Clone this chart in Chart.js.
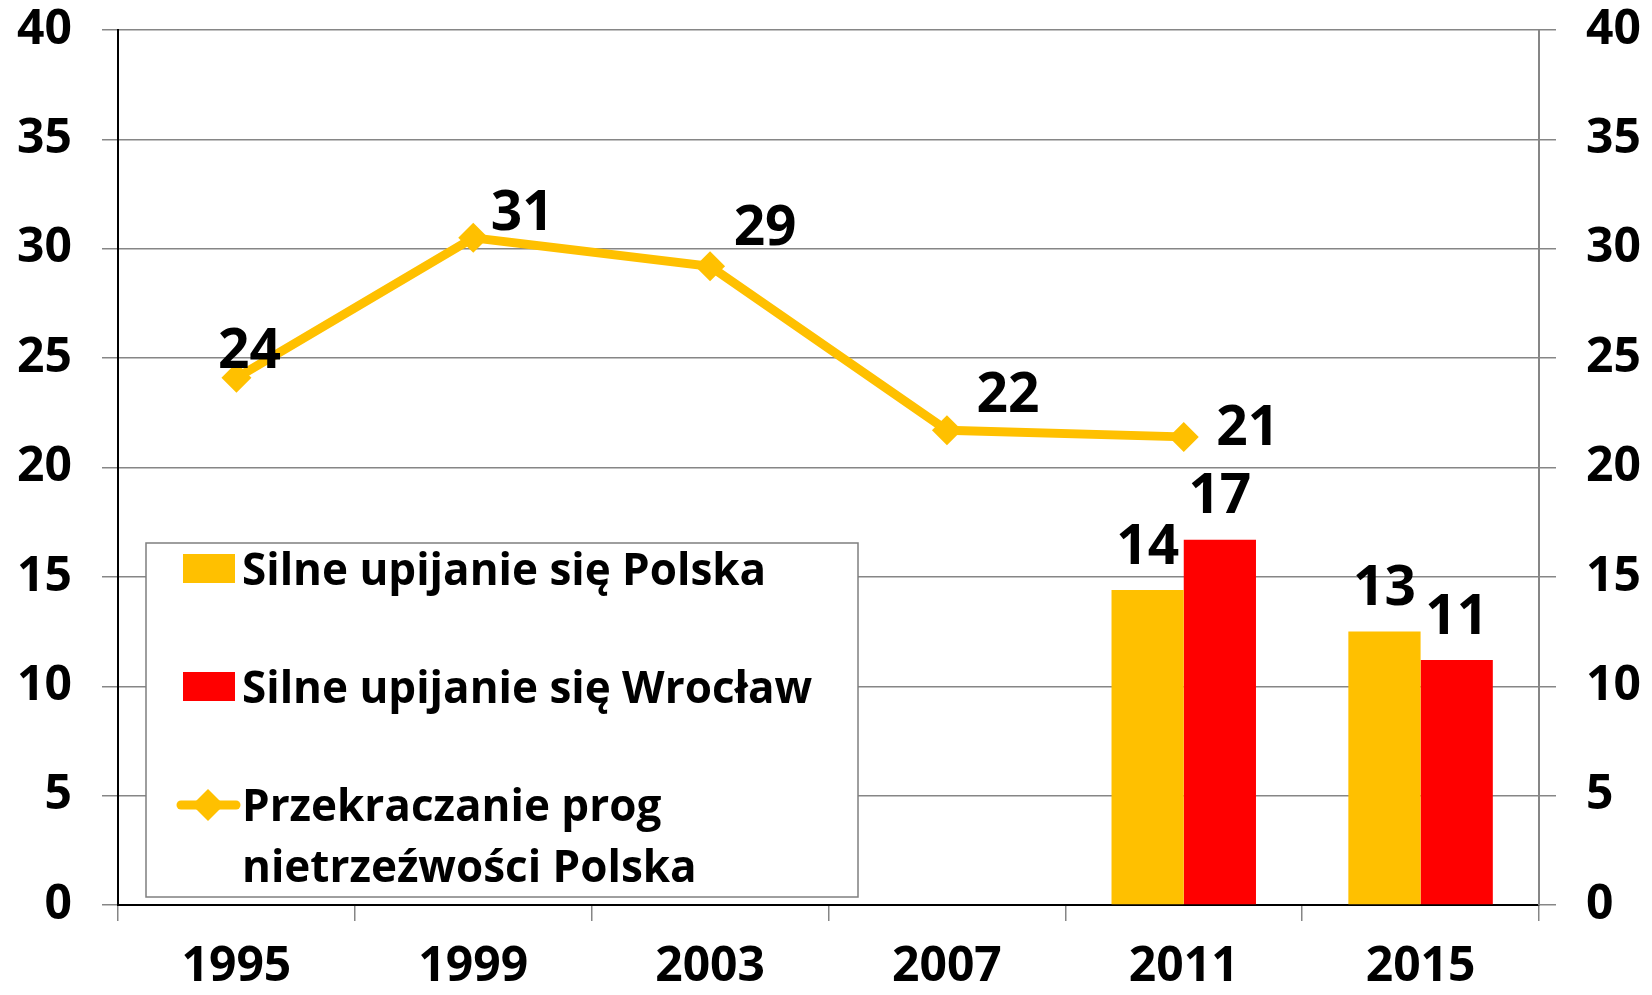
<!DOCTYPE html>
<html>
<head>
<meta charset="utf-8">
<script src="https://cdn.jsdelivr.net/npm/chart.js@4.4.1/dist/chart.umd.min.js"></script>
<style>
    html, body { margin: 0; padding: 0; background: #fff; }
    #wrap { position: relative; width: 1652px; height: 995px; }
</style>
</head>
<body>
<div id="wrap"><canvas id="chart"></canvas></div>
<script>
// ── data ──
var years = ['1995', '1999', '2003', '2007', '2011', '2015'];
var bingePolska = [null, null, null, null, 14.4, 12.5];
var bingeWroclaw = [null, null, null, null, 16.7, 11.2];
var overLimitPolska = [24.1, 30.5, 29.2, 21.7, 21.4, null];
var yTicks = [0, 5, 10, 15, 20, 25, 30, 35, 40];

var FONT = "'Open Sans', 'DejaVu Sans', sans-serif";
var YELLOW = '#FFC000';
var RED = '#FF0000';
var GRID = '#868686';

// label shifts for the line (dx, dy from point to label centre)
var lineLabelShift = [[13, -29], [49, -27], [55, -41], [61, -38], [64, -12]];

// ── value labels drawn above bars and beside line points ──
var valueLabels = {
    id: 'valueLabels',
    afterDatasetsDraw: function (chart) {
        var ctx = chart.ctx;
        ctx.save();
        ctx.font = 'bold 55px ' + FONT;
        ctx.fillStyle = '#000';
        ctx.textAlign = 'center';
        ctx.textBaseline = 'alphabetic';
        chart.data.datasets.forEach(function (ds, di) {
            var meta = chart.getDatasetMeta(di);
            meta.data.forEach(function (el, i) {
                var v = ds.data[i];
                if (v === null || v === undefined) return;
                var cx, cy;
                if (ds.type === 'line') {
                    var s = lineLabelShift[i] || [55, -32];
                    cx = el.x + s[0];
                    cy = el.y + s[1];
                } else {
                    cx = el.x;
                    cy = el.y - 46;
                }
                ctx.fillText(String(Math.round(v)), cx, cy + 0.357 * 55);
            });
        });
        ctx.restore();
    }
};

// ── boxed legend inside the plot area ──
var boxLegend = {
    id: 'boxLegend',
    afterDraw: function (chart) {
        var ctx = chart.ctx;
        var box = { x: 146, y: 543, w: 712, h: 354 };
        ctx.save();
        ctx.fillStyle = '#fff';
        ctx.fillRect(box.x, box.y, box.w, box.h);
        ctx.strokeStyle = '#7f7f7f';
        ctx.lineWidth = 1.5;
        ctx.strokeRect(box.x, box.y, box.w, box.h);

        ctx.font = 'bold 44px ' + FONT;
        ctx.textAlign = 'left';
        ctx.textBaseline = 'alphabetic';
        var textX = 242;
        var rowY = 569;
        chart.data.datasets.forEach(function (ds) {
            // marker
            if (ds.type === 'line') {
                ctx.strokeStyle = ds.borderColor;
                ctx.lineWidth = 9;
                ctx.lineCap = 'round';
                ctx.beginPath();
                ctx.moveTo(181, rowY);
                ctx.lineTo(236, rowY);
                ctx.stroke();
                ctx.fillStyle = ds.borderColor;
                ctx.beginPath();
                ctx.moveTo(208, rowY - 16);
                ctx.lineTo(224, rowY);
                ctx.lineTo(208, rowY + 16);
                ctx.lineTo(192, rowY);
                ctx.closePath();
                ctx.fill();
            } else {
                ctx.fillStyle = ds.backgroundColor;
                ctx.fillRect(183, rowY - 15, 52, 29);
            }
            // text, wrapped
            ctx.fillStyle = '#000';
            var words = ds.label.split(' ');
            var lines = [];
            var cur = '';
            words.forEach(function (w) {
                var test = cur ? cur + ' ' + w : w;
                if (cur && ctx.measureText(test).width > 600) {
                    lines.push(cur);
                    cur = w;
                } else {
                    cur = test;
                }
            });
            if (cur) lines.push(cur);
            lines.forEach(function (ln, k) {
                ctx.fillText(ln, textX, rowY + k * 61 + 0.357 * 44);
            });
            rowY += 118;
        });
        ctx.restore();
    }
};

function fixWidth(w) {
    return function (s) {
        s.width = w;
        s.paddingTop = 0;
        s.paddingBottom = 0;
    };
}

var ctx = document.getElementById('chart').getContext('2d');
new Chart(ctx, {
    data: {
        labels: years,
        datasets: [
            {
                type: 'bar',
                label: 'Silne upijanie się Polska',
                data: bingePolska,
                backgroundColor: YELLOW,
                borderWidth: 0,
                barPercentage: 1,
                categoryPercentage: 0.61,
                order: 2
            },
            {
                type: 'bar',
                label: 'Silne upijanie się Wrocław',
                data: bingeWroclaw,
                backgroundColor: RED,
                borderWidth: 0,
                barPercentage: 1,
                categoryPercentage: 0.61,
                order: 2
            },
            {
                type: 'line',
                label: 'Przekraczanie prog nietrzeźwości Polska',
                data: overLimitPolska,
                borderColor: YELLOW,
                backgroundColor: YELLOW,
                borderWidth: 9,
                pointStyle: 'rectRot',
                pointRadius: 15,
                pointBorderWidth: 0,
                pointBackgroundColor: YELLOW,
                tension: 0,
                spanGaps: false,
                order: 1
            }
        ]
    },
    options: {
        responsive: true,
        maintainAspectRatio: false,
        animation: false,
        events: [],
        layout: { padding: { top: 30, left: 0, right: 0, bottom: 0 } },
        plugins: {
            legend: { display: false },
            tooltip: { enabled: false }
        },
        scales: {
            x: {
                offset: true,
                grid: {
                    offset: true,
                    drawOnChartArea: false,
                    tickLength: 16,
                    color: GRID,
                    lineWidth: 1.5
                },
                border: { color: '#000', width: 2 },
                ticks: {
                    color: '#000',
                    font: { family: FONT, size: 48, weight: 'bold' },
                    padding: 18,
                    maxRotation: 0
                },
                afterFit: function (s) {
                    s.height = 90;
                    s.paddingLeft = 0;
                    s.paddingRight = 0;
                }
            },
            y: {
                position: 'left',
                min: 0,
                max: 40,
                afterBuildTicks: function (s) {
                    s.ticks = yTicks.map(function (v) { return { value: v }; });
                },
                grid: { color: GRID, lineWidth: 1.5, tickLength: 16 },
                border: { color: '#000', width: 2 },
                ticks: {
                    color: '#000',
                    font: { family: FONT, size: 48, weight: 'bold' },
                    padding: 30
                },
                afterFit: fixWidth(118)
            },
            y2: {
                position: 'right',
                min: 0,
                max: 40,
                afterBuildTicks: function (s) {
                    s.ticks = yTicks.map(function (v) { return { value: v }; });
                },
                grid: { drawOnChartArea: false, color: GRID, lineWidth: 1.5, tickLength: 17 },
                border: { color: GRID, width: 2 },
                ticks: {
                    color: '#000',
                    font: { family: FONT, size: 48, weight: 'bold' },
                    padding: 30
                },
                afterFit: fixWidth(113)
            }
        }
    },
    plugins: [valueLabels, boxLegend]
});
</script>
</body>
</html>
